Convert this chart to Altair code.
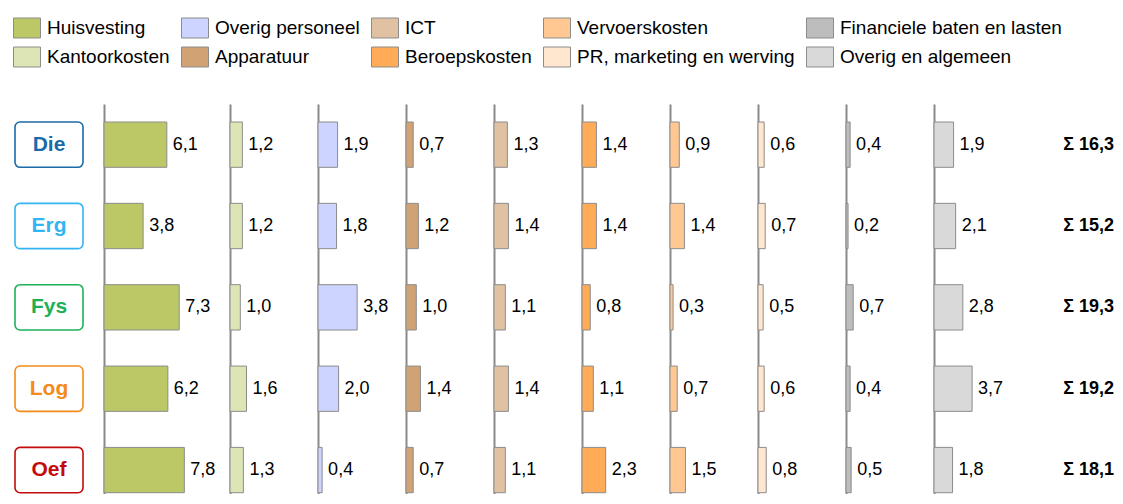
import altair as alt
import pandas as pd

# ---------------- data ----------------
rows = ["Die", "Erg", "Fys", "Log", "Oef"]
row_colors = ["#1B6AA8", "#33B5F2", "#1DB157", "#F38A1A", "#C40A0A"]

categories = [
    "Huisvesting",
    "Kantoorkosten",
    "Overig personeel",
    "Apparatuur",
    "ICT",
    "Beroepskosten",
    "Vervoerskosten",
    "PR, marketing en werving",
    "Financiele baten en lasten",
    "Overig en algemeen",
]
cat_colors = [
    "#BCC866", "#DEE5B5", "#CCD4FF", "#D1A274", "#E0C2A3",
    "#FFAB57", "#FFC893", "#FFE6CE", "#BDBDBD", "#D9D9D9",
]

huisvesting = [6.1, 3.8, 7.3, 6.2, 7.8]
kantoorkosten = [1.2, 1.2, 1.0, 1.6, 1.3]
overig_personeel = [1.9, 1.8, 3.8, 2.0, 0.4]
apparatuur = [0.7, 1.2, 1.0, 1.4, 0.7]
ict = [1.3, 1.4, 1.1, 1.4, 1.1]
beroepskosten = [1.4, 1.4, 0.8, 1.1, 2.3]
vervoerskosten = [0.9, 1.4, 0.3, 0.7, 1.5]
pr_marketing = [0.6, 0.7, 0.5, 0.6, 0.8]
financiele = [0.4, 0.2, 0.7, 0.4, 0.5]
overig_algemeen = [1.9, 2.1, 2.8, 3.7, 1.8]
totals = [16.3, 15.2, 19.3, 19.2, 18.1]

series = [huisvesting, kantoorkosten, overig_personeel, apparatuur, ict,
          beroepskosten, vervoerskosten, pr_marketing, financiele, overig_algemeen]


def nl(v):
    return f"{v:.1f}".replace(".", ",")


records = []
for cat, vals in zip(categories, series):
    for r, v in zip(rows, vals):
        records.append({"row": r, "cat": cat, "value": v, "label": nl(v)})
df = pd.DataFrame(records)

# ---------------- styling / layout ----------------
FONT = "Liberation Sans"
PX_PER_UNIT = 10.3
FIRST_W = 126
COL_W = 88
PLOT_H = 390
SUM_W = 92
LABEL_W = 68
BAR_STROKE = "#8C8C8C"

yscale = alt.Scale(domain=rows, paddingInner=0.443, paddingOuter=0.1186, align=0.933)
color_scale = alt.Scale(domain=categories, range=cat_colors)
legend_order = [categories[i] for i in (0, 2, 4, 6, 8, 1, 3, 5, 7, 9)]

legend = alt.Legend(
    orient="none", legendX=-2, legendY=-90, direction="horizontal", columns=5,
    title=None, values=legend_order, gridAlign="each",
    symbolType="M-1,-0.74L1,-0.74L1,0.74L-1,0.74Z", symbolSize=729,
    symbolStrokeColor=BAR_STROKE, symbolStrokeWidth=1, symbolOpacity=1,
    labelFont=FONT, labelFontSize=19, labelColor="black", labelOffset=6,
    labelLimit=400, columnPadding=9, rowPadding=3, padding=0,
)

y_axis = alt.Axis(domain=True, domainColor="#8A8A8A", domainWidth=2, ticks=False,
                  labels=False, title=None, grid=False)


def bar_panel(i, w):
    d = df[df["cat"] == categories[i]]
    xs = alt.Scale(domain=[0, w / PX_PER_UNIT], nice=False, zero=True)
    base = alt.Chart(d).encode(y=alt.Y("row:N", scale=yscale, axis=y_axis))
    bars = base.mark_bar(stroke=BAR_STROKE, strokeWidth=1).encode(
        x=alt.X("value:Q", scale=xs, axis=None),
        color=alt.Color("cat:N", scale=color_scale, legend=legend),
    )
    text = base.mark_text(align="left", dx=6, fontSize=18, font=FONT, color="black").encode(
        x=alt.X("value:Q", scale=xs, axis=None),
        text="label:N",
    )
    return alt.layer(bars, text).properties(width=w, height=PLOT_H)


panels = [bar_panel(i, FIRST_W if i == 0 else COL_W) for i in range(len(categories))]

# row label boxes
lab_df = pd.DataFrame({"row": rows})
lab_base = alt.Chart(lab_df).encode(y=alt.Y("row:N", scale=yscale, axis=None))
box = lab_base.mark_bar(size=33, cornerRadius=5, fill="white", strokeWidth=1.6).encode(
    stroke=alt.Stroke("row:N", scale=alt.Scale(domain=rows, range=row_colors), legend=None)
)
name = lab_base.mark_text(fontSize=21, fontWeight="bold", font=FONT).encode(
    fill=alt.Fill("row:N", scale=alt.Scale(domain=rows, range=row_colors), legend=None),
    text="row:N",
)
label_panel = alt.layer(box, name).properties(width=LABEL_W, height=PLOT_H)

# totals
sum_df = pd.DataFrame({
    "row": rows,
    "label": ["Σ " + nl(t) for t in totals],
    "col": ["Σ"] * len(rows),
})
sum_panel = alt.Chart(sum_df).mark_text(
    align="right", fontSize=18, fontWeight="bold", font=FONT, color="black"
).encode(
    y=alt.Y("row:N", scale=yscale, axis=None),
    x=alt.X("col:N", axis=None, scale=alt.Scale(type="point", padding=0, align=1)),
    text="label:N",
).properties(width=SUM_W, height=PLOT_H)

inner = alt.hconcat(*panels, sum_panel, spacing=0, bounds="flush").resolve_scale(
    x="independent", y="shared", color="shared"
).resolve_axis(y="independent")

chart = alt.hconcat(label_panel, inner, spacing=21, bounds="flush").resolve_scale(
    x="independent", y="shared", color="shared"
).resolve_axis(y="independent").properties(
    padding={"left": 5, "top": 6, "right": 0, "bottom": 0},
    background="white",
).configure(font=FONT).configure_view(strokeWidth=0, stroke="transparent")

chart.save("out.html", embed_options={"renderer": "svg", "actions": False})
